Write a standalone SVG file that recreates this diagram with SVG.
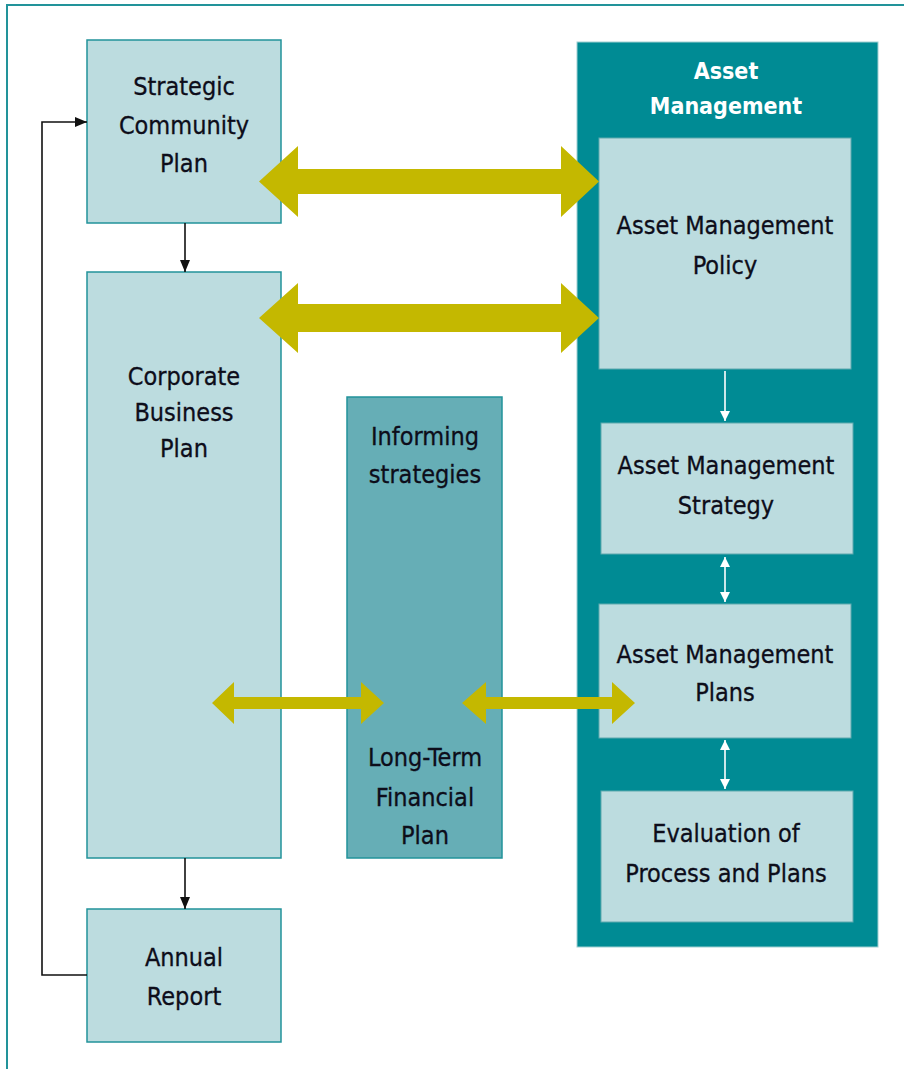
<svg xmlns="http://www.w3.org/2000/svg" width="904" height="1069" viewBox="0 0 904 1069">
<defs>
<style>
.box{fill:#bcdcdf;stroke:#22939a;stroke-width:1.5}
.inner{fill:#bcdcdf;stroke:#5fa9ae;stroke-width:1}
.t{font-family:"Liberation Sans Narrow","DejaVu Sans Condensed","Liberation Sans",sans-serif;font-size:25px;fill:#0d0d1a;stroke:#0d0d1a;stroke-width:0.3;text-anchor:middle}
.w{fill:#ffffff;stroke:none;font-weight:bold;font-size:23px}
.blk{stroke:#111;stroke-width:1.6;fill:none}
.wht{stroke:#fff;stroke-width:1.6;fill:none}
.big{fill:#c4b800}
</style>
<marker id="ab" viewBox="0 0 12 10" refX="12" refY="5" markerWidth="12" markerHeight="10" markerUnits="userSpaceOnUse" orient="auto"><path d="M0,0 L12,5 L0,10 z" fill="#111"/></marker>
<marker id="aw" viewBox="0 0 10 10" refX="10" refY="5" markerWidth="10" markerHeight="12" markerUnits="userSpaceOnUse" orient="auto-start-reverse"><path d="M0,0 L10,5 L0,10 z" fill="#fff"/></marker>
</defs>
<rect x="7" y="5" width="920" height="1090" fill="#fff" stroke="#22939a" stroke-width="2"/>

<g id="asset-management">
<rect x="577" y="42" width="301" height="905" fill="#008b94" stroke="#9fcfd2" stroke-width="1"/>
<text class="t w" x="726" y="79">Asset</text>
<text class="t w" x="726" y="114">Management</text>
</g>
<g id="scp"><rect class="box" x="87" y="40" width="194" height="183"/>
<text class="t" x="184" y="95">Strategic</text><text class="t" x="184" y="134">Community</text><text class="t" x="184" y="172">Plan</text></g>
<g id="cbp"><rect class="box" x="87" y="272" width="194" height="586"/>
<text class="t" x="184" y="385">Corporate</text><text class="t" x="184" y="421">Business</text><text class="t" x="184" y="457">Plan</text></g>
<g id="annual"><rect class="box" x="87" y="909" width="194" height="133"/>
<text class="t" x="184" y="966">Annual</text><text class="t" x="184" y="1005">Report</text></g>
<g id="informing"><rect x="347" y="397" width="155" height="461" fill="#66aeb6" stroke="#22939a" stroke-width="1.5"/>
<text class="t" x="425" y="445">Informing</text><text class="t" x="425" y="483">strategies</text>
<text class="t" x="425" y="766">Long-Term</text><text class="t" x="425" y="806">Financial</text><text class="t" x="425" y="844">Plan</text></g>
<g id="am-policy"><rect class="inner" x="599" y="138" width="252" height="231"/>
<text class="t" x="725" y="234">Asset Management</text><text class="t" x="725" y="274">Policy</text></g>
<g id="am-strategy"><rect class="inner" x="601" y="423" width="252" height="131"/>
<text class="t" x="726" y="474">Asset Management</text><text class="t" x="726" y="514">Strategy</text></g>
<g id="am-plans"><rect class="inner" x="599" y="604" width="252" height="134"/>
<text class="t" x="725" y="663">Asset Management</text><text class="t" x="725" y="701">Plans</text></g>
<g id="evaluation"><rect class="inner" x="601" y="791" width="252" height="131"/>
<text class="t" x="726" y="842">Evaluation of</text><text class="t" x="726" y="882">Process and Plans</text></g>

<g id="connectors">
<line class="blk" x1="185" y1="223" x2="185" y2="272" marker-end="url(#ab)"/>
<line class="blk" x1="185" y1="858" x2="185" y2="909" marker-end="url(#ab)"/>
<polyline class="blk" points="87,975 42,975 42,122 87,122" marker-end="url(#ab)"/>
<line class="wht" x1="725" y1="371" x2="725" y2="421" marker-end="url(#aw)"/>
<line class="wht" x1="725" y1="557" x2="725" y2="602" marker-start="url(#aw)" marker-end="url(#aw)"/>
<line class="wht" x1="725" y1="740" x2="725" y2="789" marker-start="url(#aw)" marker-end="url(#aw)"/>
<polygon class="big" points="259,181.5 298,146 298,169 561,169 561,146 599,181.5 561,217 561,194 298,194 298,217"/>
<polygon class="big" points="259,318 298,283 298,304 561,304 561,283 599,318 561,353 561,332 298,332 298,353"/>
<polygon class="big" points="212,703 234,682 234,697 361,697 361,682 384,703 361,724 361,709 234,709 234,724"/>
<polygon class="big" points="462,703 486,682 486,697 612,697 612,682 635,703 612,724 612,709 486,709 486,724"/>
</g>
</svg>
